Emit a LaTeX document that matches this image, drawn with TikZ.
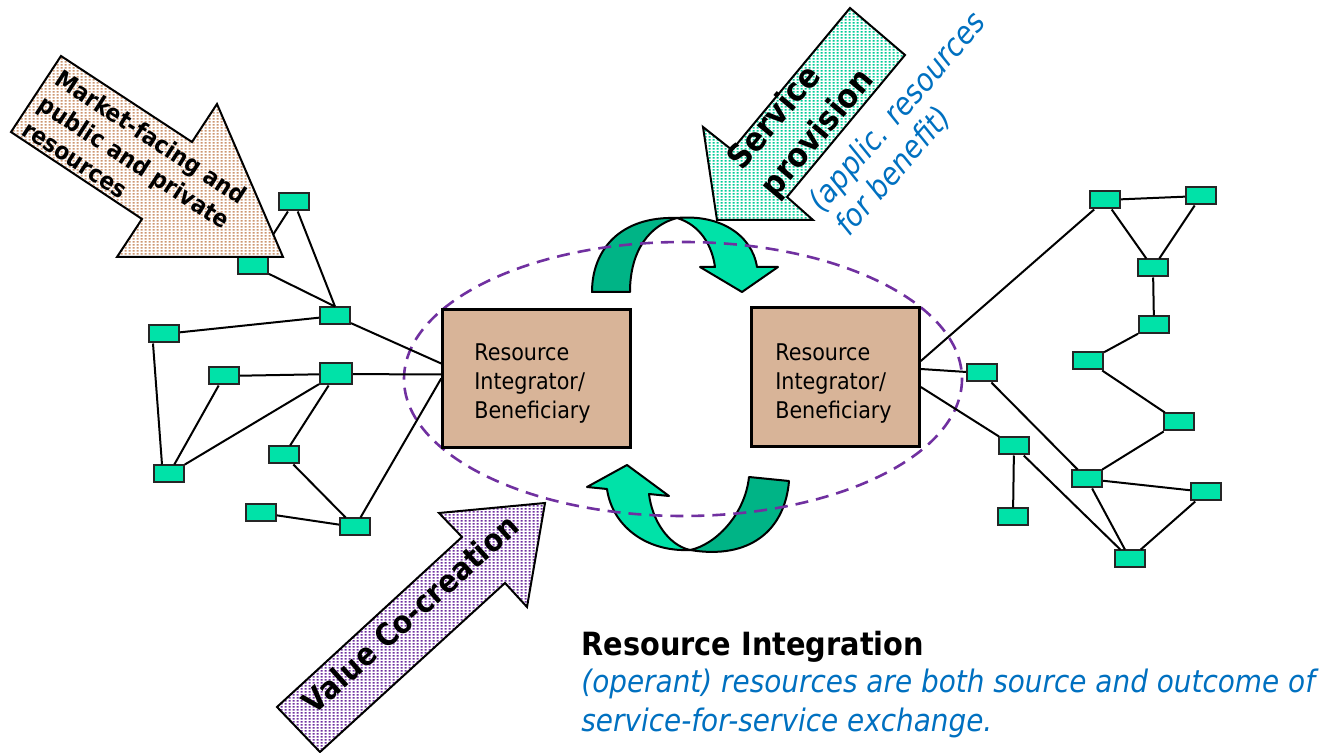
\documentclass[tikz,border=0pt]{standalone}
\usepackage{fontspec}
\setmainfont{DejaVu Sans}[FakeStretch=0.9]
\usetikzlibrary{patterns}

\definecolor{boxgreen}{RGB}{0,226,168}
\definecolor{darkgreen}{RGB}{0,180,134}
\definecolor{tanbox}{RGB}{216,180,152}
\definecolor{ovalpurple}{RGB}{112,48,160}
\definecolor{noteblue}{RGB}{0,112,192}
\definecolor{peachdot}{RGB}{205,150,112}
\definecolor{tealdot}{RGB}{0,204,150}

\pgfdeclarepatternformonly{finedots}{\pgfqpoint{0pt}{0pt}}{\pgfqpoint{2pt}{1.5pt}}{\pgfqpoint{2pt}{1.5pt}}{\pgfpathrectangle{\pgfqpoint{0.4pt}{0.25pt}}{\pgfqpoint{1.2pt}{1pt}}\pgfusepath{fill}}

\begin{document}
\begin{tikzpicture}[x=0.5pt, y=-0.5pt,
  res/.style = {draw=black!85, line width=1pt, fill=boxgreen, minimum width=15pt, minimum height=8.5pt, inner sep=0pt},
  integ/.style = {draw, line width=1.3pt, fill=tanbox, inner sep=0pt},
  boxtext/.style = {align=left, inner sep=0pt, font=\fontsize{11.5}{14.5}\selectfont},
  link/.style = {line width=1pt},
  turn/.style = {draw, line width=1pt, line join=round},
  bigarrow/.style = {draw, line width=1pt, line join=miter, preaction={fill=white}, pattern=finedots},
  arrowtext/.style = {align=left, inner sep=0pt},
  note/.style = {align=left, inner sep=0pt, text=noteblue, font=\itshape\fontsize{15.5}{19.5}\selectfont}]
\useasboundingbox (0,0) rectangle (1334,753);

% turning arrows between the integrators
\draw[turn, fill=darkgreen] (592,292) .. controls (592,250) and (620,216) .. (677,218)
  .. controls (650,225) and (630,250) .. (630,292) -- cycle;
\draw[turn, fill=boxgreen] (677,218) .. controls (720,214) and (752,235) .. (757,267)
  -- (778,267) -- (742,292) -- (700,267) -- (715,267)
  .. controls (712,245) and (700,225) .. (677,218) -- cycle;
\draw[turn, fill=darkgreen] (749,477) -- (789,481) .. controls (785,530) and (750,560) .. (690,550)
  .. controls (715,545) and (745,515) .. (749,477) -- cycle;
\draw[turn, fill=boxgreen] (690,550) .. controls (645,552) and (612,525) .. (607,489)
  -- (587,487) -- (627,465) -- (669,496) -- (649,494)
  .. controls (652,520) and (668,545) .. (690,550) -- cycle;

\draw[ovalpurple, line width=1.3pt, dash pattern=on 6.5pt off 4pt] (683,379) ellipse [x radius=279, y radius=137];

\node[integ, minimum width=94pt, minimum height=69pt] (lri) at (536.5,378.5) {};
\node[integ, minimum width=84pt, minimum height=69.5pt] (rri) at (835.5,377) {};
\node[boxtext] (ltext) at ([xshift=-2pt, yshift=-2.5pt]lri.center) {Resource\\Integrator/\\Beneficiary};
\node[boxtext] (rtext) at ([xshift=-1pt, yshift=-3.5pt]rri.center) {Resource\\Integrator/\\Beneficiary};

% left network
\node[res] (b1) at (294,202) {};
\node[res] (b2) at (253,266) {};
\node[res] (b3) at (335,316) {};
\node[res] (b4) at (164,334) {};
\node[res] (b5) at (224,376) {};
\node[res, minimum width=16pt, minimum height=10.5pt] (b6) at (336,374) {};
\node[res] (b7) at (284,455) {};
\node[res] (b8) at (169,474) {};
\node[res] (b9) at (261,513) {};
\node[res] (b10) at (355,527) {};

\draw[link] (b1) -- (b2);
\draw[link] (b2) -- (b3.north);
\draw[link] (b1) -- (b3.north);
\draw[link] (b3) -- (b4);
\draw[link] (b3) -- ([yshift=7.5pt]lri.west);
\draw[link] ([xshift=2.5pt]b4.south west) -- ([xshift=-3.5pt]b8.north);
\draw[link] (b5) -- (b6);
\draw[link] (b5) -- (b8);
\draw[link] (b6) -- (b8);
\draw[link] (b6) -- ([yshift=2pt]lri.west);
\draw[link] (b6) -- (b7);
\draw[link] (b7) -- (b10);
\draw[link] (b9) -- (b10);
\draw[link] (b10) -- (lri.west);

% right network
\node[res] (r1) at (1105,200) {};
\node[res] (r2) at (1201,196) {};
\node[res] (r3) at (1153,268) {};
\node[res] (r4) at (1154,325) {};
\node[res] (r5) at (1088,361) {};
\node[res] (r6) at (982,373) {};
\node[res] (r7) at (1179,422) {};
\node[res] (r8) at (1014,446) {};
\node[res] (r9) at (1087,479) {};
\node[res] (r10) at (1206,492) {};
\node[res] (r11) at (1013,517) {};
\node[res] (r12) at (1130,559) {};

\draw[link] ([yshift=8pt]rri.east) -- (r1);
\draw[link] ([yshift=4pt]rri.east) -- (r6);
\draw[link] ([yshift=-5pt]rri.east) -- (r8);
\draw[link] (r1) -- (r2);
\draw[link] (r1) -- (r3);
\draw[link] (r2) -- (r3);
\draw[link] (r3) -- (r4);
\draw[link] (r4) -- (r5);
\draw[link] (r5) -- (r7);
\draw[link] (r7) -- (r9);
\draw[link] (r6) -- (r9);
\draw[link] (r9) -- (r10);
\draw[link] (r9) -- (r12);
\draw[link] (r10) -- (r12);
\draw[link] (r8) -- (r11);
\draw[link] (r8) -- (r12);

% block arrows
\draw[bigarrow, pattern color=peachdot] (61,56) -- (192,142) -- (217,104) -- (283,257) -- (117,257) -- (142,219) -- (11,132) -- cycle;
\draw[bigarrow, pattern color=tealdot] (850,8) -- (905,55) -- (787,197) -- (813,220) -- (717,220) -- (703,127) -- (732,150) -- cycle;
\draw[bigarrow, pattern color=ovalpurple] (545,503) -- (439,513) -- (462,537) -- (277,707) -- (320,752) -- (505,583) -- (527,607) -- cycle;

\node[arrowtext, rotate=-33, font=\bfseries\fontsize{12}{15}\selectfont] (market) at (135,162) {Market-facing and\\public and private\\resources};
\node[arrowtext, rotate=50, font=\bfseries\fontsize{16.5}{21.5}\selectfont] (provision) at (802,120) {Service\\provision};
\node[note, rotate=49, font=\itshape\fontsize{15.5}{18}\selectfont] (applic) at (911,124) {(applic. resources\\for benefit)};
\node[arrowtext, rotate=42, font=\bfseries\fontsize{15.5}{19}\selectfont] (cocreate) at (410,614) {Value Co-creation};

\node[arrowtext, anchor=base west, font=\bfseries\fontsize{16}{19}\selectfont] (integration) at (581,655) {Resource Integration};
\node[note, anchor=base west] (outcome) at (581,731) {(operant) resources are both source and outcome of\\service-for-service exchange.};
\end{tikzpicture}
\end{document}
